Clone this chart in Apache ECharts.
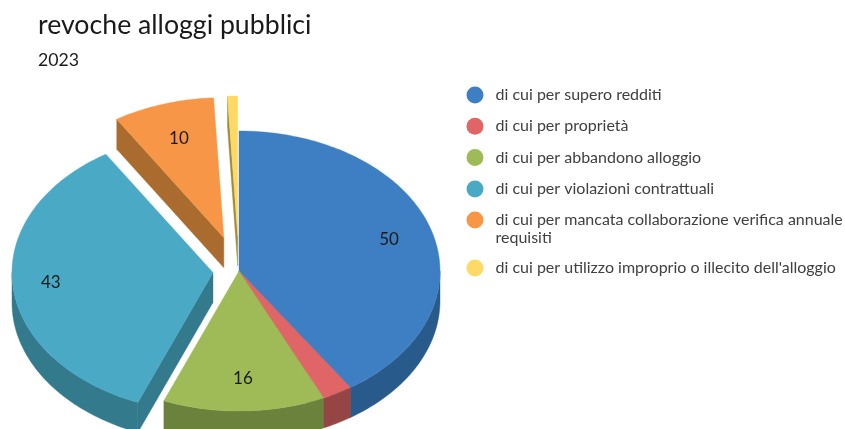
<!DOCTYPE html>
<html><head><meta charset="utf-8">
<style>html,body{margin:0;padding:0;background:#fff}#c{width:845px;height:429px}</style>
<script src="https://cdn.jsdelivr.net/npm/echarts@6/dist/echarts.min.js"></script>
</head><body><div id="c"></div>
<script>
const titleText = 'revoche alloggi pubblici';
const subtitleText = '2023';
const categories = ['di cui per supero redditi','di cui per proprietà','di cui per abbandono alloggio','di cui per violazioni contrattuali','di cui per mancata collaborazione verifica annuale requisiti',"di cui per utilizzo improprio o illecito dell'alloggio"];
const values = [50,3,16,43,10,1];
const explode = [0,0,0,0.13,0.25,0.25];
const topColors = ['#3D7FC2','#DF6566','#9EBB58','#4AA9C4','#F79646','#FFD966'];
const sideColors = ['#285B8C','#964545','#6A823C','#337A8D','#AA6C2E','#A08A3C'];
const labelRadii = [0.78,0.78,0.765,0.81,0.74,0.78];
const labelMin = 10;
const DEPTH = 30, FONT = 'Lato';
const total = values.reduce((a,b)=>a+b,0);
const RAD = Math.PI/180;

function makeRender(i){
  const a = values.slice(0,i).reduce((s,v)=>s+v,0)/total*360;
  const b = a + values[i]/total*360;
  const mid = (a+b)/2;
  const ox = explode[i]*Math.sin(mid*RAD), oy = explode[i]*Math.cos(mid*RAD);
  return function(params, api){
    const P = (t,r)=>api.coord([ox+r*Math.sin(t*RAD), oy+r*Math.cos(t*RAD)]);
    const arc = (s,e)=>{
      const pts=[], n=Math.max(2,Math.ceil((e-s)));
      for(let k=0;k<=n;k++) pts.push(P(s+(e-s)*k/n,1));
      return pts;
    };
    const down = p=>[p[0],p[1]+DEPTH];
    const side = sideColors[i], top = api.visual('color');
    const children = [];
    const poly = (points,fill)=>children.push({type:'polygon',shape:{points},style:{fill,stroke:fill,lineWidth:0.4}});
    const apex = P(0,0);
    const cut = t=>{const o=P(t,1);poly([apex,o,down(o),down(apex)],side);};
    if(Math.sin(a*RAD)<0) cut(a);
    if(Math.sin(b*RAD)>0) cut(b);
    const s=Math.max(a,90), e=Math.min(b,270);
    if(e>s){
      const w=arc(s,e);
      poly(w.concat(w.map(down).reverse()),side);
    }
    poly([apex].concat(arc(a,b)),top);
    const v = api.value(2);
    if(v>=labelMin){
      const l=P(mid,labelRadii[i]);
      children.push({type:'text',x:l[0],y:l[1],style:{text:String(v),fontFamily:FONT,fontSize:17,fill:'#1a1a1a',align:'center',verticalAlign:'middle'}});
    }
    return {type:'group',children};
  };
}

const legendBase = {orient:'vertical',left:461.5,icon:'circle',itemWidth:31,itemHeight:17,itemGap:13.3,selectedMode:false,
  textStyle:{fontFamily:FONT,fontSize:16,color:'#404040',lineHeight:18}};

const chart = echarts.init(document.getElementById('c'),null,{renderer:'canvas'});
chart.setOption({
  animation:false,
  backgroundColor:'#fff',
  title:{left:33,top:7,itemGap:12.6,text:titleText,subtext:subtitleText,
    textStyle:{fontFamily:FONT,fontSize:26.7,fontWeight:'normal',color:'#1a1a1a'},
    subtextStyle:{fontFamily:FONT,fontSize:17.7,color:'#1a1a1a'}},
  grid:{left:38,top:131,width:402,height:280,containLabel:false},
  xAxis:{type:'value',min:-1,max:1,show:false},
  yAxis:{type:'value',min:-1,max:1,show:false},
  legend:[
    Object.assign({},legendBase,{top:81,data:categories.slice(0,4)}),
    Object.assign({},legendBase,{top:188,data:[categories[4]],
      formatter:()=> '\ndi cui per mancata collaborazione verifica annuale\nrequisiti'}),
    Object.assign({},legendBase,{top:254,data:[categories[5]]})
  ],
  series:categories.map((name,i)=>({
    type:'custom',name,coordinateSystem:'cartesian2d',clip:false,silent:true,
    itemStyle:{color:topColors[i]},
    renderItem:makeRender(i),
    data:[[0,0,values[i]]]
  }))
});
</script></body></html>
